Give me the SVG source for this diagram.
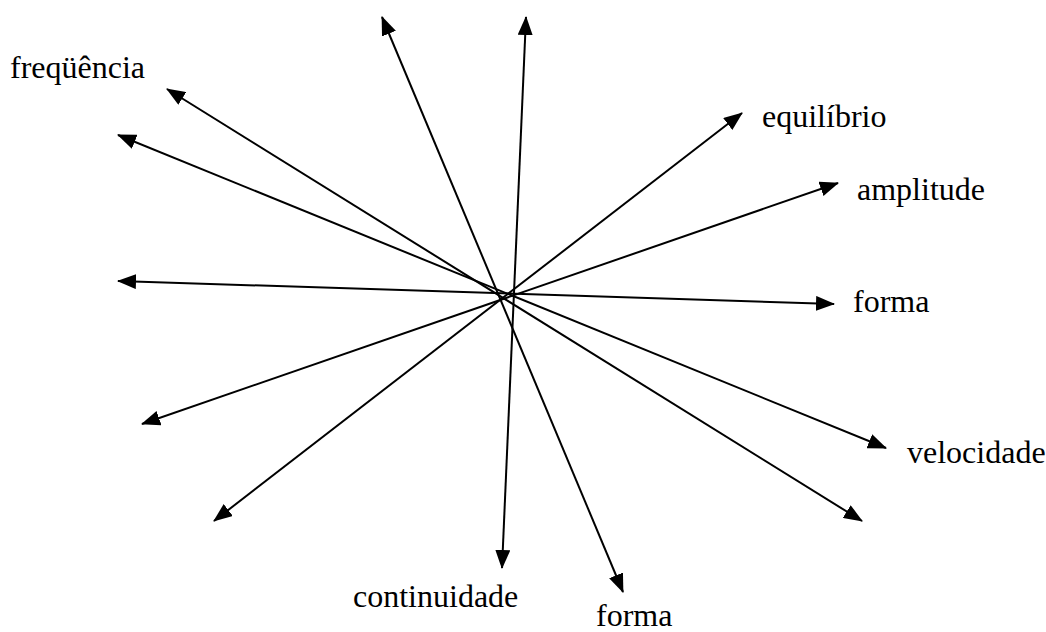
<svg xmlns="http://www.w3.org/2000/svg" width="1046" height="632" viewBox="0 0 1046 632">
<style>
.c line{stroke:#000;stroke-width:2;fill:none;marker-start:url(#ah);marker-end:url(#ah)}
text{font-family:"Liberation Serif","Times New Roman",serif;font-size:32px;fill:#000}
</style>
<defs>
<marker id="ah" markerUnits="userSpaceOnUse" markerWidth="19" markerHeight="15" refX="18" refY="7.5" orient="auto-start-reverse" viewBox="0 0 19 15">
<path d="M0,0 L19,7.5 L0,15 z" fill="#000"/>
</marker>
</defs>
<rect width="1046" height="632" fill="#fff"/>
<g id="connectors" class="c">
<line x1="382" y1="17" x2="623" y2="592"/>
<line x1="526" y1="17" x2="502" y2="568"/>
<line x1="167" y1="89" x2="862" y2="521"/>
<line x1="118" y1="135" x2="886" y2="448"/>
<line x1="118" y1="281" x2="834" y2="304"/>
<line x1="142" y1="424" x2="838" y2="183"/>
<line x1="214" y1="521" x2="742" y2="113"/>
</g>
<g id="n-frequencia"><text x="10" y="78">freqüência</text></g>
<g id="n-equilibrio"><text x="762" y="127">equilíbrio</text></g>
<g id="n-amplitude"><text x="857" y="200">amplitude</text></g>
<g id="n-forma1"><text x="853" y="312">forma</text></g>
<g id="n-velocidade"><text x="907" y="463">velocidade</text></g>
<g id="n-continuidade"><text x="353" y="607">continuidade</text></g>
<g id="n-forma2"><text x="596" y="626">forma</text></g>
</svg>
